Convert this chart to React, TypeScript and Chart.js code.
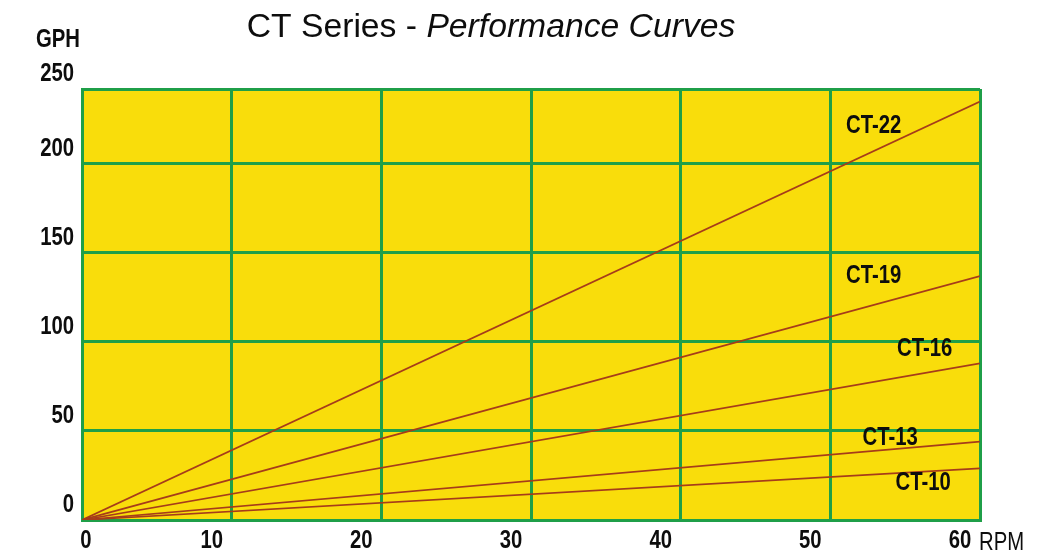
import React, { useEffect, useRef } from 'react';
import { Chart, registerables } from 'chart.js';

Chart.register(...registerables);

// ---- data ----
const titlePlain = 'CT Series - ';
const titleItalic = 'Performance Curves';
const yAxisTitle = 'GPH';
const xAxisTitle = 'RPM';

const rpm = [0, 60];
const seriesNames = ['CT-22', 'CT-19', 'CT-16', 'CT-13', 'CT-10'];
const ct22 = [0, 235];
const ct19 = [0, 137];
const ct16 = [0, 88];
const ct13 = [0, 44];
const ct10 = [0, 29];
const seriesValues = [ct22, ct19, ct16, ct13, ct10];

// label anchor positions in data units (RPM, GPH)
const labelRpm = [52.9, 52.9, 56.3, 54.0, 56.2];
const labelGph = [222, 137.6, 96.6, 46.6, 21.3];

const xTickValues = [0, 10, 20, 30, 40, 50, 60];
const xTickLabels = ['0', '10', '20', '30', '40', '50', '60'];
const yTickValues = [0, 50, 100, 150, 200, 242];
const yTickLabels = ['0', '50', '100', '150', '200', '250'];

// ---- styles ----
const YELLOW = '#f9dd0b';
const GREEN = '#1f9f48';
const LINE = '#a63c1a';
const SANS = "'Liberation Sans', Arial, sans-serif";
const NARROW_SX = 0.78;
const TEXT = '#0d0d0d';

function narrowText(ctx: any, text: string, x: number, y: number, align: string, font: string) {
  ctx.save();
  ctx.translate(x, y);
  ctx.scale(NARROW_SX, 1);
  ctx.font = font;
  ctx.textAlign = align;
  ctx.fillText(text, 0, 0);
  ctx.restore();
}

const decorPlugin = {
  id: 'decor',
  beforeDraw(chart: any) {
    const { ctx, chartArea } = chart;
    ctx.save();
    ctx.fillStyle = '#ffffff';
    ctx.fillRect(0, 0, chart.width, chart.height);
    ctx.fillStyle = YELLOW;
    ctx.fillRect(chartArea.left, chartArea.top, chartArea.right - chartArea.left, chartArea.bottom - chartArea.top);
    ctx.restore();
  },
  afterDatasetsDraw(chart: any) {
    const { ctx } = chart;
    const xs = chart.scales.x;
    const ys = chart.scales.y;
    ctx.save();
    ctx.fillStyle = TEXT;
    ctx.textBaseline = 'middle';
    seriesNames.forEach((n, i) => {
      narrowText(ctx, n, xs.getPixelForValue(labelRpm[i]), ys.getPixelForValue(labelGph[i]) + 1, 'center', `bold 26px ${SANS}`);
    });
    ctx.restore();
  },
  afterDraw(chart: any) {
    const { ctx, chartArea } = chart;
    const xs = chart.scales.x;
    const ys = chart.scales.y;
    ctx.save();
    ctx.fillStyle = TEXT;
    ctx.textBaseline = 'alphabetic';
    // x tick labels
    xs.ticks.forEach((t: any, i: number) => {
      const px = xs.getPixelForValue(t.value) + (i === 0 ? 4 : -20);
      narrowText(ctx, xTickLabels[i], px, chartArea.bottom + 28, 'center', `bold 26px ${SANS}`);
    });
    // y tick labels
    ys.ticks.forEach((t: any, i: number) => {
      const py = ys.getPixelForValue(t.value) - 8;
      narrowText(ctx, yTickLabels[i], chartArea.left - 8, py, 'right', `bold 26px ${SANS}`);
    });
    // title
    const tf = '33.7px';
    ctx.font = `${tf} ${SANS}`;
    const w1 = ctx.measureText(titlePlain).width;
    ctx.font = `italic ${tf} ${SANS}`;
    const w2 = ctx.measureText(titleItalic).width;
    const startX = 491 - (w1 + w2) / 2;
    ctx.textAlign = 'left';
    ctx.font = `${tf} ${SANS}`;
    ctx.fillText(titlePlain, startX, 37);
    ctx.font = `italic ${tf} ${SANS}`;
    ctx.fillText(titleItalic, startX + w1, 37);
    // axis titles
    narrowText(ctx, yAxisTitle, 58, 47, 'center', `bold 26px ${SANS}`);
    narrowText(ctx, xAxisTitle, chartArea.right - 1, 550, 'left', `26px ${SANS}`);
    ctx.restore();
  },
};

export default function App() {
  const ref = useRef<HTMLCanvasElement | null>(null);
  useEffect(() => {
    document.body.style.margin = '0';
    if (!ref.current) return;
    const chart = new Chart(ref.current, {
      type: 'line',
      data: {
        datasets: seriesNames.map((name, i) => ({
          label: name,
          data: rpm.map((x, j) => ({ x, y: seriesValues[i][j] })),
          borderColor: LINE,
          borderWidth: 1.7,
          pointRadius: 0,
          fill: false,
          tension: 0,
        })),
      },
      options: {
        animation: false,
        responsive: true,
        maintainAspectRatio: false,
        layout: { padding: { top: 89, right: 76, left: 0, bottom: 0 } },
        plugins: {
          legend: { display: false },
          title: { display: false },
          tooltip: { enabled: false },
        },
        scales: {
          x: {
            type: 'linear',
            min: 0,
            max: 60,
            afterBuildTicks: (scale: any) => {
              scale.ticks = xTickValues.map((v) => ({ value: v }));
            },
            afterFit: (scale: any) => {
              scale.height = 34;
            },
            grid: { color: GREEN, lineWidth: 3, drawTicks: false },
            border: { display: true, color: GREEN, width: 3 },
            ticks: { display: false, autoSkip: false },
          },
          y: {
            type: 'linear',
            min: 0,
            max: 242,
            afterBuildTicks: (scale: any) => {
              scale.ticks = yTickValues.map((v) => ({ value: v }));
            },
            afterFit: (scale: any) => {
              scale.width = 82;
            },
            grid: { color: GREEN, lineWidth: 3, drawTicks: false },
            border: { display: true, color: GREEN, width: 3 },
            ticks: { display: false, autoSkip: false },
          },
        },
      },
      plugins: [decorPlugin],
    } as any);
    return () => chart.destroy();
  }, []);
  return (
    <div style={{ position: 'relative', width: 1056, height: 554 }}>
      <canvas ref={ref} />
    </div>
  );
}
